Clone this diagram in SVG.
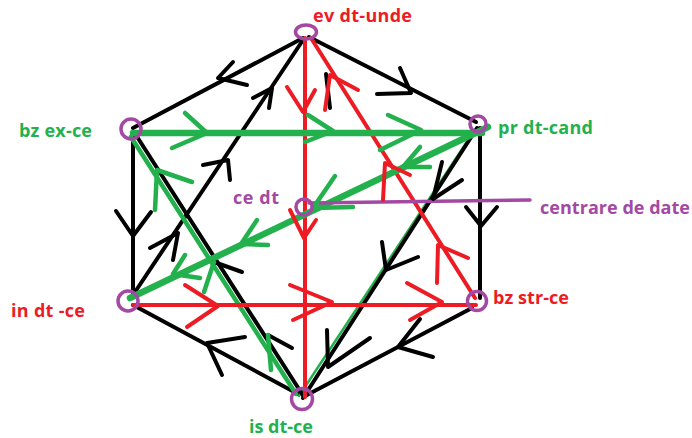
<svg xmlns="http://www.w3.org/2000/svg" width="692" height="438" viewBox="0 0 692 438">
<style>
.k{stroke:#000;stroke-width:4;fill:none;stroke-linecap:round;stroke-linejoin:round}
.r{stroke:#ED1C24;stroke-width:4;fill:none;stroke-linecap:round;stroke-linejoin:round}
.g{stroke:#22B14C;stroke-width:4.5;fill:none;stroke-linecap:round;stroke-linejoin:round}
.gt{stroke:#22B14C;stroke-width:6.5;fill:none;stroke-linecap:round}
.gs{stroke:#22B14C;stroke-width:2.5;fill:none;stroke-linecap:round}
.p{stroke:#A349A4;stroke-width:3.5;fill:none;stroke-linecap:round}
text{font-family:"Open Sans","Liberation Sans",sans-serif;font-weight:700;font-size:18px}
.tr{fill:#ED1C24}.tg{fill:#22B14C}.tp{fill:#A349A4}
</style>
<rect width="692" height="438" fill="#fff"/>
<g id="connectors">
  <!-- black edges -->
  <line class="k" x1="303" y1="38" x2="133" y2="128"/>
  <line class="k" x1="309" y1="37" x2="476" y2="122"/>
  <line class="k" x1="480" y1="128" x2="480" y2="298"/>
  <line class="k" x1="472" y1="308" x2="305" y2="396"/>
  <line class="k" x1="133" y1="305" x2="298" y2="394"/>
  <line class="k" x1="133" y1="133" x2="133" y2="296"/>
  <line class="k" x1="303" y1="40" x2="131" y2="298"/>
  <line class="gs" x1="474" y1="131" x2="299" y2="396"/>
  <line class="k" x1="477" y1="128" x2="303" y2="398"/>
  <line class="g" x1="131" y1="137" x2="296" y2="394"/>
  <line class="k" x1="134" y1="132" x2="304" y2="397"/>
  <!-- red edges -->
  <line class="r" x1="305" y1="38" x2="305" y2="397"/>
  <line class="r" x1="311" y1="38" x2="475" y2="298"/>
  <line class="r" x1="133" y1="305" x2="476" y2="305"/>
  <!-- green edges -->
  <line class="gt" x1="133" y1="133" x2="482" y2="133"/>
  <line class="gt" x1="488" y1="127" x2="130" y2="298"/>
  <!-- purple pointer -->
  <line class="p" x1="309" y1="203" x2="530" y2="200"/>
  <!-- black arrows -->
  <polyline class="k" points="233,62 218,78 247,85"/>
  <polyline class="k" points="400,68 411,93 377,94"/>
  <polyline class="k" points="253,98 272,88 269,108"/>
  <polyline class="k" points="203,165 228,160 230,180"/>
  <polyline class="k" points="150,248 178,233 173,260"/>
  <polyline class="k" points="466,207 481,226 497,207"/>
  <polyline class="k" points="420,319 398,347 433,357"/>
  <polyline class="k" points="245,337 207,343 222,375"/>
  <polyline class="k" points="116,211 133,236 151,212"/>
  <polyline class="k" points="442,162 433,199 462,180"/>
  <polyline class="k" points="382,242 386,270 418,257"/>
  <polyline class="k" points="327,330 328,367 370,338"/>
  <line class="k" x1="214" y1="262" x2="242" y2="272"/>
  <line class="k" x1="268" y1="335" x2="292" y2="348"/>
  <line class="k" x1="326" y1="74" x2="330" y2="108"/>
  <!-- green arrows -->
  <polyline class="g" points="185,113 207,133 172,148"/>
  <polyline class="g" points="308,115 333,131 305,142"/>
  <polyline class="g" points="388,115 421,130 380,150"/>
  <polyline class="g" points="420,147 403,167 430,167"/>
  <polyline class="g" points="335,176 313,208 353,207"/>
  <polyline class="g" points="257,220 241,244 268,245"/>
  <polyline class="g" points="185,255 173,274 200,278"/>
  <polyline class="g" points="192,182 157,170 155,210"/>
  <line class="g" x1="214" y1="262" x2="204" y2="292"/>
  <line class="g" x1="268" y1="335" x2="271" y2="370"/>
  <!-- red arrows -->
  <polyline class="r" points="287,87 303,112 315,90"/>
  <polyline class="r" points="290,210 304,238 316,220"/>
  <polyline class="r" points="185,285 218,306 187,327"/>
  <polyline class="r" points="290,285 332,302 293,320"/>
  <polyline class="r" points="407,283 442,302 410,320"/>
  <polyline class="r" points="325,110 330,75 358,90"/>
  <polyline class="r" points="383,200 385,163 410,175"/>
  <polyline class="r" points="437,283 438,245 468,258"/>
</g>
<g id="node-ev">
  <ellipse class="p" cx="306" cy="32" rx="10.5" ry="7"/>
  <text class="tr" x="313" y="22" textLength="99">ev dt-unde</text>
</g>
<g id="node-bzex">
  <circle class="p" cx="131" cy="129" r="10"/>
  <text class="tg" x="19" y="137" textLength="73">bz ex-ce</text>
</g>
<g id="node-pr">
  <circle class="p" cx="478" cy="124" r="8"/>
  <text class="tg" x="498" y="134" textLength="95">pr dt-cand</text>
</g>
<g id="node-ce">
  <circle class="p" cx="304" cy="207" r="8"/>
  <text class="tp" x="233" y="204" textLength="46">ce dt</text>
  <text class="tp" x="540" y="214" textLength="150">centrare de date</text>
</g>
<g id="node-in">
  <circle class="p" cx="128" cy="301" r="10"/>
  <text class="tr" x="11" y="317" textLength="74">in dt -ce</text>
</g>
<g id="node-bzstr">
  <circle class="p" cx="477" cy="301" r="9.5"/>
  <text class="tr" x="493" y="304" textLength="76">bz str-ce</text>
</g>
<g id="node-is">
  <circle class="p" cx="302" cy="399" r="10.5"/>
  <text class="tg" x="249" y="433" textLength="64">is dt-ce</text>
</g>
</svg>
